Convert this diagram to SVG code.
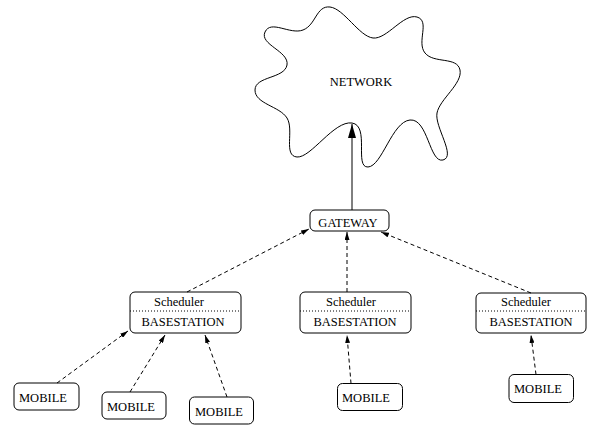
<svg xmlns="http://www.w3.org/2000/svg" width="590" height="426" viewBox="0 0 590 426">
<style>
.box{fill:#fff;stroke:#000;stroke-width:1}
.sep{stroke:#000;stroke-width:1;stroke-dasharray:1 2}
.t{font-family:"Liberation Serif","Times New Roman",serif;font-size:12.5px;fill:#000}
.dash{stroke:#000;stroke-width:1;fill:none;stroke-dasharray:4 3}
.solid{stroke:#000;stroke-width:1;fill:none}
</style>
<defs>
<marker id="ah" viewBox="0 0 8 5" refX="8" refY="2.5" markerWidth="8" markerHeight="5" markerUnits="userSpaceOnUse" orient="auto">
<path d="M0,0 L8,2.5 L0,5 z" fill="#000"/>
</marker>
<marker id="ahb" viewBox="0 0 14 8" refX="14" refY="4" markerWidth="14" markerHeight="8" markerUnits="userSpaceOnUse" orient="auto">
<path d="M0,0 L14,4 L0,8 z" fill="#000"/>
</marker>
</defs>
<rect width="590" height="426" fill="#fff"/>
<g id="network">
<path class="box" d="M255,90 C255,76 284.6,78.8 287,65 C289.4,51.2 259.2,44.7 265,32 C270.8,19.3 289.9,35 303,30 C316.1,25 316.1,5.4 330,7 C343.9,8.6 359.1,36.4 373,38 C386.9,39.6 403.5,13.1 417,17 C430.5,20.9 416.2,42.1 425,53 C433.8,63.9 457.3,56.3 460,70 C462.7,83.7 439.6,99.2 437,113 C434.4,126.8 456.5,156.5 443,160 C429.5,163.5 428,118.3 410,120 C392,121.7 382,166.3 368,167 C354,167.7 370,125.6 352,123 C334,120.4 311,158.1 297,157 C283,155.9 294.4,129.9 287,118 C279.6,106.1 255,104 255,90 Z"/>
<text class="t" x="361" y="86" text-anchor="middle">NETWORK</text>
</g>
<g id="gateway">
<rect class="box" x="310" y="210" width="79" height="21" rx="5"/>
<text class="t" x="348" y="227" text-anchor="middle">GATEWAY</text>
</g>
<g id="bs1">
<rect class="box" x="130" y="292" width="111" height="41" rx="5"/>
<line class="sep" x1="130" y1="311" x2="241" y2="311"/>
<text class="t" x="179" y="306" text-anchor="middle">Scheduler</text>
<text class="t" x="183" y="326" text-anchor="middle">BASESTATION</text>
</g>
<g id="bs2">
<rect class="box" x="300" y="292" width="111" height="41" rx="5"/>
<line class="sep" x1="300" y1="311" x2="411" y2="311"/>
<text class="t" x="351" y="306" text-anchor="middle">Scheduler</text>
<text class="t" x="355" y="326" text-anchor="middle">BASESTATION</text>
</g>
<g id="bs3">
<rect class="box" x="476" y="293" width="110" height="40" rx="5"/>
<line class="sep" x1="476" y1="311" x2="586" y2="311"/>
<text class="t" x="526" y="306" text-anchor="middle">Scheduler</text>
<text class="t" x="531" y="326" text-anchor="middle">BASESTATION</text>
</g>
<g id="mobile1">
<rect class="box" x="14" y="383" width="65" height="27" rx="5"/>
<text class="t" x="19" y="401.5">MOBILE</text>
</g>
<g id="mobile2">
<rect class="box" x="102" y="392" width="64" height="27" rx="5"/>
<text class="t" x="107" y="410.5">MOBILE</text>
</g>
<g id="mobile3">
<rect class="box" x="189.5" y="397" width="64" height="27" rx="5"/>
<text class="t" x="195" y="416">MOBILE</text>
</g>
<g id="mobile4">
<rect class="box" x="337.5" y="383.5" width="65" height="27" rx="5"/>
<text class="t" x="342" y="402">MOBILE</text>
</g>
<g id="mobile5">
<rect class="box" x="509" y="374.5" width="64.5" height="28" rx="5"/>
<text class="t" x="514" y="393">MOBILE</text>
</g>
<g id="connectors">
<line class="solid" x1="352" y1="210" x2="352" y2="124" marker-end="url(#ahb)"/>
<line class="dash" x1="187" y1="292" x2="309" y2="229" marker-end="url(#ah)"/>
<line class="dash" x1="347" y1="292" x2="347" y2="232" marker-end="url(#ah)"/>
<line class="dash" x1="531" y1="293" x2="381" y2="232" marker-end="url(#ah)"/>
<line class="dash" x1="57" y1="383" x2="128" y2="331" marker-end="url(#ah)"/>
<line class="dash" x1="130" y1="392" x2="165" y2="335" marker-end="url(#ah)"/>
<line class="dash" x1="227" y1="397" x2="205" y2="335" marker-end="url(#ah)"/>
<line class="dash" x1="351" y1="383.5" x2="347" y2="335" marker-end="url(#ah)"/>
<line class="dash" x1="536" y1="374.5" x2="531" y2="335" marker-end="url(#ah)"/>
</g>
</svg>
